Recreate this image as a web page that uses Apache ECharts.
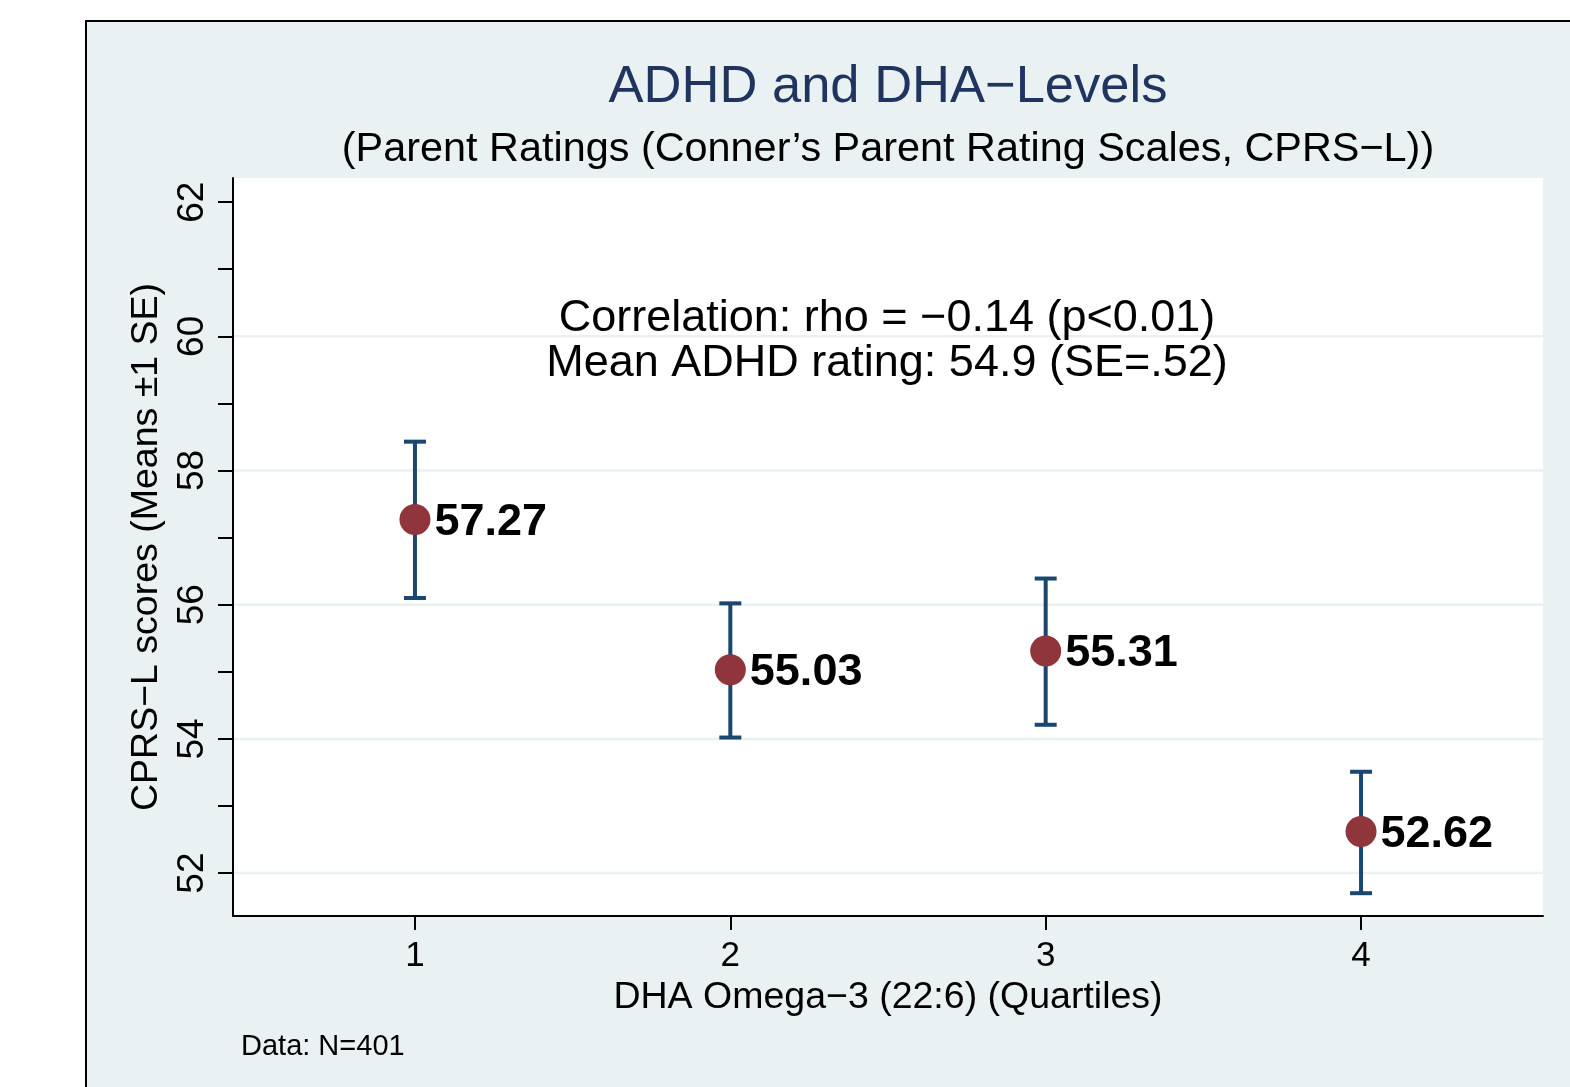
<!DOCTYPE html>
<html>
<head>
<meta charset="utf-8">
<script src="https://cdn.jsdelivr.net/npm/echarts@6/dist/echarts.min.js"></script>
<style>
  html, body { margin: 0; padding: 0; background: #fff; }
  #chart { width: 1570px; height: 1087px; }
</style>
</head>
<body>
<div id="chart"></div>
<script>
// DHA quartiles and CPRS-L means with +-1 SE bounds
var quartiles = [1, 2, 3, 4];
var means = [57.27, 55.03, 55.31, 52.62];
var lower = [56.10, 54.02, 54.21, 51.70];
var upper = [58.43, 56.02, 56.39, 53.51];

var yTicks = [52, 53, 54, 55, 56, 57, 58, 59, 60, 61, 62];
var yLabels = [52, 54, 56, 58, 60, 62];
var gridValues = [52, 54, 56, 58, 60];

var xMin = 0.423, xMax = 4.577;
var yMin = 51.36, yMax = 62.36;

var font = '"Liberation Sans", Arial, Helvetica, sans-serif';
var navy = '#1a476f';
var maroon = '#90353b';
var bg = '#e9f1f3';

var chart = echarts.init(document.getElementById('chart'));

chart.setOption({
  backgroundColor: '#fff',
  animation: false,
  textStyle: { fontFamily: font },
  graphic: [
    {
      type: 'rect', z: -100,
      shape: { x: 86, y: 21, width: 1600, height: 1200 },
      style: { fill: bg, stroke: '#000', lineWidth: 2 }
    },
    {
      type: 'text', x: 888, y: 88,
      style: { text: 'ADHD and DHA\u2212Levels', fill: '#1f3560', font: '52.5px ' + font,
        textAlign: 'center', textVerticalAlign: 'middle' }
    },
    {
      type: 'text', x: 888, y: 150,
      style: { text: '(Parent Ratings (Conner\u2019s Parent Rating Scales, CPRS\u2212L))', fill: '#000',
        font: '41.4px ' + font, textAlign: 'center', textVerticalAlign: 'middle' }
    },
    {
      type: 'text', x: 887, y: 319, z: 10,
      style: { text: 'Correlation: rho = \u22120.14 (p<0.01)', fill: '#000',
        font: '45px ' + font, textAlign: 'center', textVerticalAlign: 'middle' }
    },
    {
      type: 'text', x: 887, y: 364, z: 10,
      style: { text: 'Mean ADHD rating: 54.9 (SE=.52)', fill: '#000',
        font: '45px ' + font, textAlign: 'center', textVerticalAlign: 'middle' }
    },
    {
      type: 'text', x: 241, y: 1047,
      style: { text: 'Data: N=401', fill: '#000', font: '29px ' + font,
        textAlign: 'left', textVerticalAlign: 'middle' }
    }
  ],
  grid: {
    left: 233, top: 178, width: 1310, height: 738,
    show: true, backgroundColor: '#fff', borderWidth: 0
  },
  xAxis: {
    type: 'value', min: xMin, max: xMax,
    name: 'DHA Omega\u22123 (22:6) (Quartiles)',
    nameLocation: 'middle', nameGap: 62,
    nameTextStyle: { fontSize: 37.5, color: '#000', fontFamily: font },
    axisLine: { show: true, onZero: false, lineStyle: { color: '#000', width: 2 } },
    axisTick: { show: true, length: 14, lineStyle: { color: '#000', width: 2 }, customValues: quartiles },
    axisLabel: { fontSize: 35, color: '#000', margin: 23, customValues: quartiles },
    splitLine: { show: false }
  },
  yAxis: {
    type: 'value', min: yMin, max: yMax,
    name: 'CPRS\u2212L scores (Means \u00b11 SE)',
    nameLocation: 'middle', nameGap: 64,
    nameTextStyle: { fontSize: 37.5, color: '#000', fontFamily: font },
    axisLine: { show: true, lineStyle: { color: '#000', width: 2 } },
    axisTick: { show: true, length: 15, lineStyle: { color: '#000', width: 2 }, customValues: yTicks },
    axisLabel: { fontSize: 37, color: '#000', rotate: 90, margin: 22, customValues: yLabels },
    splitLine: { show: false }
  },
  series: [
    {
      type: 'custom', z: 1, silent: true,
      data: gridValues.map(function (v) { return [v]; }),
      renderItem: function (params, api) {
        var v = api.value(0);
        var a = api.coord([xMin, v]);
        var b = api.coord([xMax, v]);
        return {
          type: 'line',
          shape: { x1: a[0] + 1, y1: a[1], x2: b[0], y2: b[1] },
          style: { stroke: bg, lineWidth: 2.5 }
        };
      }
    },
    {
      type: 'custom', z: 2, silent: true,
      data: quartiles.map(function (q, i) { return [q, lower[i], upper[i]]; }),
      renderItem: function (params, api) {
        var x = api.value(0);
        var lo = api.coord([x, api.value(1)]);
        var hi = api.coord([x, api.value(2)]);
        var hw = 11;
        var st = { stroke: navy, lineWidth: 4 };
        return {
          type: 'group',
          children: [
            { type: 'line', shape: { x1: lo[0], y1: lo[1], x2: hi[0], y2: hi[1] }, style: st },
            { type: 'line', shape: { x1: hi[0] - hw, y1: hi[1], x2: hi[0] + hw, y2: hi[1] }, style: st },
            { type: 'line', shape: { x1: lo[0] - hw, y1: lo[1], x2: lo[0] + hw, y2: lo[1] }, style: st }
          ]
        };
      }
    },
    {
      type: 'scatter', z: 3,
      symbol: 'circle', symbolSize: 31,
      itemStyle: { color: maroon, opacity: 1 },
      data: quartiles.map(function (q, i) { return [q, means[i]]; }),
      label: {
        show: true, position: 'right', distance: 4, offset: [0, 3],
        fontSize: 45, fontWeight: 'bold', color: '#000', fontFamily: font,
        formatter: function (p) { return p.value[1].toFixed(2); }
      }
    }
  ]
});
</script>
</body>
</html>
